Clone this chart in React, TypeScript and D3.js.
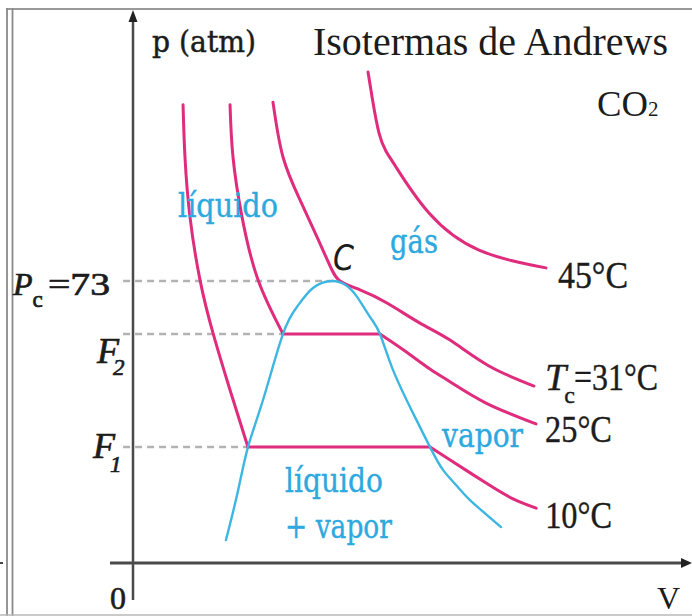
import { useEffect, useRef } from 'react';
import { curveNatural, line, scaleLinear, select } from 'd3';

type Pt = [number, number];

// volume (arbitrary units), pressure (atm)
const iso10Liquid: Pt[] = [[0.91, 118.6], [0.945, 105.1], [1.036, 89.6], [1.218, 73.3], [1.455, 59.5], [1.764, 44.8], [2.09, 30]];
const iso10Gas: Pt[] = [[5.4, 30], [5.76, 26.7], [6.42, 20.7], [6.91, 16.6], [7.33, 14.2]];
const iso25Liquid: Pt[] = [[1.764, 118.6], [1.818, 105.1], [1.982, 89.6], [2.273, 73.3], [2.727, 59.3]];
const iso25Gas: Pt[] = [[4.49, 59.3], [4.945, 54.9], [5.4, 50.2], [5.764, 46.9], [6.418, 41.4], [7.327, 36.0]];
const isoTc: Pt[] = [[2.545, 119.3], [2.727, 105.1], [3.036, 94.0], [3.345, 84.4], [3.582, 76.9], [3.764, 73.0], [4.127, 70.7], [4.618, 67.3], [5.218, 62.1], [5.764, 57.7], [6.473, 51.0], [7.291, 45.8]];
const iso45: Pt[] = [[4.273, 127.1], [4.355, 119.9], [4.473, 111.3], [4.6, 106.6], [4.782, 102.5], [5.382, 90.6], [6.291, 81.0], [7.509, 76.4]];
const dome: Pt[] = [[1.69, 5.95], [1.9, 18.1], [2.09, 30.0], [2.364, 42.2], [2.727, 59.3], [2.982, 66.3], [3.273, 71.2], [3.62, 73.0], [3.86, 72.0], [4.073, 68.9], [4.309, 63.7], [4.49, 59.3], [4.727, 50.0], [5.091, 38.8], [5.4, 30.0], [5.636, 24.1], [5.873, 20.2], [6.127, 16.3], [6.691, 9.3]];

const isothermLabels = ['10°C', '25°C', '=31°C', '45°C'];
const levelNames = ['P', 'F', 'F'];
const levelSubs = ['c', '2', '1'];
const levelValues = [73, 59.3, 30];
const levelEnds = [3.764, 2.727, 2.09];
const phaseLabels = ['líquido', 'gás', 'vapor', 'líquido', '+ vapor'];

const W = 692;
const H = 616;
const PINK = '#df2c7d';
const CYAN = '#3db6e2';
const CYAN_TEXT = '#2ea9df';
const INK = '#1c1c1c';
const SERIF = '"Liberation Serif", "Times New Roman", serif';
const SLAB = '"DejaVu Serif", serif';

export default function App() {
  const svgRef = useRef<SVGSVGElement | null>(null);

  useEffect(() => {
    if (!svgRef.current) return;
    const svg = select(svgRef.current);
    svg.selectAll('*').remove();

    const x = scaleLinear().domain([0, 10]).range([133, 683]);
    const y = scaleLinear().domain([0, 73]).range([563, 281]);
    const smooth = line<Pt>().x((d) => x(d[0])).y((d) => y(d[1])).curve(curveNatural);
    const straight = line<Pt>().x((d) => x(d[0])).y((d) => y(d[1]));

    svg.append('rect').attr('width', W).attr('height', H).attr('fill', '#fff');

    // page frame
    svg.append('line').attr('x1', 6).attr('x2', W).attr('y1', 9).attr('y2', 9).attr('stroke', '#9a9a9a').attr('stroke-width', 2);
    [7, 12.5].forEach((fx) => {
      svg.append('line').attr('x1', fx).attr('x2', fx).attr('y1', 8).attr('y2', H).attr('stroke', '#8a8a8a').attr('stroke-width', 1.8);
    });
    svg.append('line').attr('x1', 0).attr('x2', 3).attr('y1', y(0)).attr('y2', y(0)).attr('stroke', '#444').attr('stroke-width', 2);

    // dashed pressure levels
    levelValues.forEach((p, i) => {
      svg.append('line')
        .attr('x1', x(-0.18)).attr('x2', x(levelEnds[i]))
        .attr('y1', y(p)).attr('y2', y(p))
        .attr('stroke', '#b2b2b2').attr('stroke-width', 2.5).attr('stroke-dasharray', '7 5');
    });

    // axes
    svg.append('line').attr('x1', x(0)).attr('x2', x(0)).attr('y1', 600).attr('y2', 20).attr('stroke', '#4a4a4a').attr('stroke-width', 2.5);
    svg.append('path').attr('d', `M${x(0)},10 L${x(0) - 4.5},22 L${x(0) + 4.5},22 Z`).attr('fill', '#222');
    svg.append('line').attr('x1', x(0) - 23).attr('x2', 684).attr('y1', y(0)).attr('y2', y(0)).attr('stroke', '#4a4a4a').attr('stroke-width', 3);
    svg.append('path').attr('d', `M692,${y(0)} L681,${y(0) - 5} L681,${y(0) + 5} Z`).attr('fill', '#222');

    // isotherms
    const isotherms: { liquid?: Pt[]; gas: Pt[] }[] = [
      { liquid: iso10Liquid, gas: iso10Gas },
      { liquid: iso25Liquid, gas: iso25Gas },
      { gas: isoTc },
      { gas: iso45 },
    ];
    const g = svg.append('g').attr('fill', 'none').attr('stroke', PINK).attr('stroke-width', 3).attr('stroke-linecap', 'round');
    isotherms.forEach((iso) => {
      if (iso.liquid) {
        g.append('path').attr('d', smooth(iso.liquid));
        g.append('path').attr('d', straight([iso.liquid[iso.liquid.length - 1], iso.gas[0]]));
      }
      g.append('path').attr('d', smooth(iso.gas));
    });

    // saturation dome
    svg.append('path').attr('d', smooth(dome)).attr('fill', 'none').attr('stroke', CYAN).attr('stroke-width', 2.4).attr('stroke-linecap', 'round');

    // isotherm labels, placed from the end of each curve
    const labelOffsets = [[9, 20], [9, 18], [11, 4], [12, 20]];
    const labelWidths = [67, 67, 84, 70];
    isotherms.forEach((iso, i) => {
      const end = iso.gas[iso.gas.length - 1];
      const lx = x(end[0]) + labelOffsets[i][0];
      const ly = y(end[1]) + labelOffsets[i][1];
      const t = svg.append('text').attr('x', lx).attr('y', ly)
        .attr('font-family', SERIF).attr('font-size', 38).attr('fill', INK)
        .attr('stroke', INK).attr('stroke-width', 0.4);
      if (i === 2) {
        t.append('tspan').attr('font-style', 'italic').text('T');
        t.append('tspan').attr('dx', -2).attr('dy', 13).attr('font-size', 24).text('c');
        t.append('tspan').attr('x', lx + 29).attr('dy', -13)
          .attr('textLength', labelWidths[i]).attr('lengthAdjust', 'spacingAndGlyphs').text(isothermLabels[i]);
      } else {
        t.attr('textLength', labelWidths[i]).attr('lengthAdjust', 'spacingAndGlyphs').text(isothermLabels[i]);
      }
    });

    // level labels on the p axis
    const levelLayout = [
      { x: 13, dy: 14, subDx: 0, subDy: 12 },
      { x: 97, dy: 29, subDx: -6, subDy: 12 },
      { x: 93, dy: 11, subDx: -5, subDy: 14 },
    ];
    levelValues.forEach((p, i) => {
      const L = levelLayout[i];
      const t = svg.append('text').attr('x', L.x).attr('y', y(p) + L.dy)
        .attr('font-family', SERIF).attr('font-size', i === 0 ? 32 : 36)
        .attr('fill', INK).attr('stroke', INK).attr('stroke-width', 0.7);
      t.append('tspan').attr('font-style', 'italic').text(levelNames[i]);
      t.append('tspan').attr('dx', L.subDx).attr('dy', L.subDy).attr('font-size', 23)
        .attr('font-style', i === 0 ? 'normal' : 'italic').text(levelSubs[i]);
      if (i === 0) {
        t.append('tspan').attr('x', 48).attr('dy', -L.subDy)
          .attr('textLength', 62).attr('lengthAdjust', 'spacingAndGlyphs').text('=73');
      }
    });

    // critical point
    svg.append('text').attr('x', x(3.764) - 7).attr('y', y(73) - 11)
      .attr('font-family', '"DejaVu Sans", sans-serif').attr('font-style', 'italic').attr('font-size', 36)
      .attr('textLength', 21).attr('lengthAdjust', 'spacingAndGlyphs').attr('fill', INK).text('C');

    // phase labels
    const phaseLayout = [
      { x: 178, y: 217, w: 100 },
      { x: 390, y: 253, w: 48 },
      { x: 442, y: 447, w: 81 },
      { x: 285, y: 492, w: 98 },
      { x: 285, y: 538, w: 107 },
    ];
    phaseLabels.forEach((label, i) => {
      const L = phaseLayout[i];
      svg.append('text').attr('x', L.x).attr('y', L.y)
        .attr('font-family', SLAB).attr('font-size', 33).attr('fill', CYAN_TEXT)
        .attr('stroke', CYAN_TEXT).attr('stroke-width', 0.4)
        .attr('textLength', L.w).attr('lengthAdjust', 'spacingAndGlyphs').text(label);
    });

    // titles and axis names
    const titles = svg.append('g').attr('font-family', SERIF).attr('fill', INK);
    titles.append('text').attr('x', 313).attr('y', 55).attr('font-size', 39)
      .attr('textLength', 355).attr('lengthAdjust', 'spacingAndGlyphs').text('Isotermas de Andrews');
    const co2 = titles.append('text').attr('x', 597).attr('y', 116).attr('font-size', 35);
    co2.append('tspan').attr('textLength', 51).attr('lengthAdjust', 'spacingAndGlyphs').text('CO');
    co2.append('tspan').attr('x', 648).attr('font-size', 21).text('2');
    titles.append('text').attr('x', 152).attr('y', 52).attr('font-size', 30)
      .attr('font-family', SLAB).attr('stroke', INK).attr('stroke-width', 0.5)
      .attr('textLength', 104).attr('lengthAdjust', 'spacingAndGlyphs').text('p (atm)');
    titles.append('text').attr('x', 110).attr('y', 609).attr('font-size', 32).attr('stroke', INK).attr('stroke-width', 0.6).text('0');
    titles.append('text').attr('x', 657).attr('y', 609).attr('font-size', 32).text('V');

    svg.append('line').attr('x1', 0).attr('x2', W).attr('y1', 615).attr('y2', 615).attr('stroke', '#b8b8b8').attr('stroke-width', 1.5);
  }, []);

  return (
    <svg
      ref={svgRef}
      width={W}
      height={H}
      style={{ position: 'absolute', left: 0, top: 0, display: 'block' }}
    />
  );
}
